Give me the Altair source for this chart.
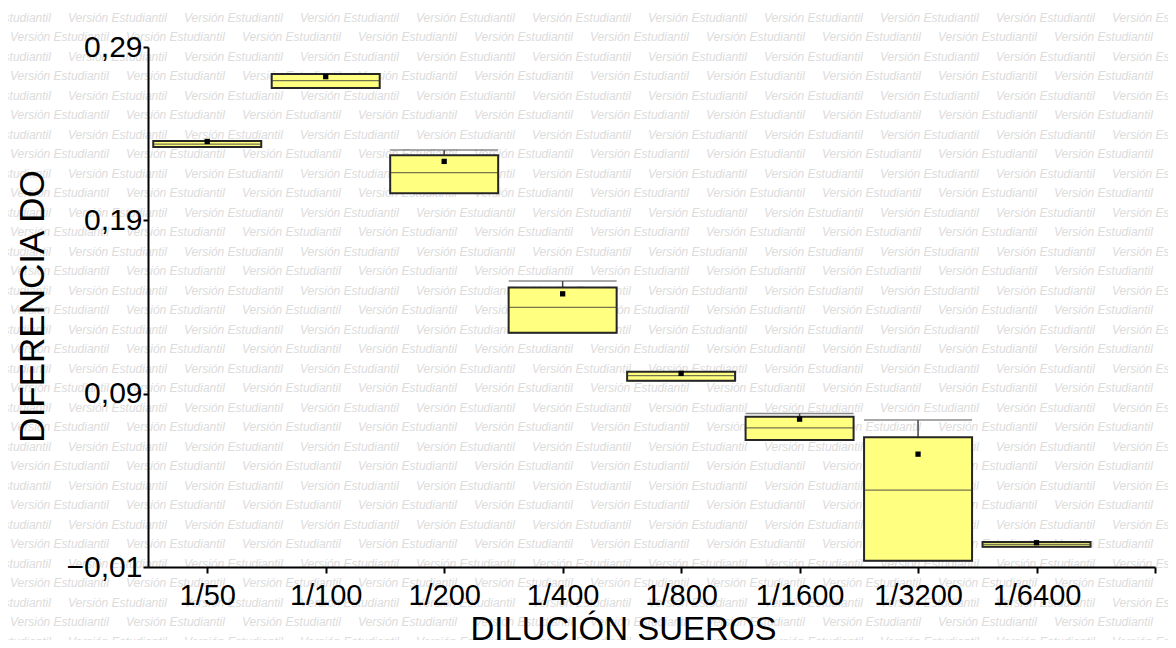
import altair as alt
import pandas as pd

# ---- data ----
categories = ['1/50', '1/100', '1/200', '1/400', '1/800', '1/1600', '1/3200', '1/6400']
positions = [1, 2, 3, 4, 5, 6, 7, 8]
q1 = [0.2323, 0.2663, 0.2056, 0.1251, 0.0975, 0.0632, -0.0064, 0.0017]
median = [0.2340, 0.2706, 0.2175, 0.1398, 0.1004, 0.0703, 0.0344, 0.0030]
q3 = [0.2358, 0.2744, 0.2275, 0.1513, 0.1026, 0.0767, 0.0648, 0.0044]
whisker_hi = [0.2358, 0.2744, 0.2306, 0.1550, 0.1026, 0.0786, 0.0748, 0.0044]
whisker_lo = [0.2323, 0.2663, 0.2056, 0.1251, 0.0975, 0.0632, -0.0064, 0.0017]
mean = [0.2355, 0.2729, 0.2240, 0.1476, 0.1017, 0.0753, 0.0551, 0.0040]

y_ticks = [-0.01, 0.09, 0.19, 0.29]
x_ticks = [1, 2, 3, 4, 5, 6, 7, 8, 9]

watermark_text = 'Versión Estudiantil'

df = pd.DataFrame({
    'cat': categories, 'pos': positions, 'q1': q1, 'median': median, 'q3': q3,
    'hi': whisker_hi, 'lo': whisker_lo, 'mean': mean,
})

# watermark pattern (page decoration), in plot-pixel coordinates
wm_rows = []
for r in range(34):
    start = 68 if r % 2 == 0 else 10
    for c in range(-1, 11):
        wm_rows.append({'wx': start + 116 * c - 148, 'wy': 17.5 + 19.5 * r - 47, 't': watermark_text})
wm = pd.DataFrame(wm_rows)

PLOT_W, PLOT_H = 1007, 520
BOX_W = 108

label_arr = '[' + ','.join("'" + c + "'" for c in categories) + ']'

xscale = alt.Scale(domain=[0.5, 9], nice=False, zero=False, padding=0)
yscale = alt.Scale(domain=[-0.01, 0.29], nice=False, zero=False, padding=0)

xaxis = alt.Axis(
    values=x_ticks, labelExpr=label_arr + "[datum.value-1] || ''",
    title='DILUCIÓN SUEROS', titleX=475, titleY=72, titleBaseline='alphabetic',
    titleAlign='center', titleAnchor='start', titleFontSize=33,
    labelBaseline='alphabetic', labelPadding=31, labelFontSize=29, tickSize=6,
    labelFlush=False, labelOverlap=False, zindex=1,
)
yaxis = alt.Axis(
    values=y_ticks, labelExpr="replace(format(datum.value, '.2f'), '.', ',')",
    title='DIFERENCIA DO', titleX=-116, titleY=259, titleAngle=270,
    titleBaseline='middle', titleAlign='center', titleAnchor='start', titleFontSize=35,
    labelPadding=1, labelFontSize=30, tickSize=5, labelFlush=False, labelOverlap=False, zindex=1,
)

base = alt.Chart(df)

watermark = alt.Chart(wm).mark_text(
    align='left', baseline='middle', font='Liberation Sans', fontSize=12,
    fontStyle='italic', color='#dcdcdc', clip=False,
).encode(
    x=alt.X('wx:Q', scale=None, axis=None),
    y=alt.Y('wy:Q', scale=None, axis=None),
    text='t:N',
)

whisker = base.mark_rule(color='#444444', strokeWidth=1.5).encode(
    x=alt.X('pos:Q', scale=xscale, axis=xaxis),
    y=alt.Y('q3:Q', scale=yscale, axis=yaxis),
    y2='hi:Q',
)

cap_hi = base.mark_tick(orient='horizontal', size=BOX_W, thickness=1.5, color='#5a5a5a').encode(
    x=alt.X('pos:Q', scale=xscale), y=alt.Y('hi:Q', scale=yscale),
)
cap_lo = base.mark_tick(orient='horizontal', size=BOX_W, thickness=1.5, color='#5a5a5a').encode(
    x=alt.X('pos:Q', scale=xscale), y=alt.Y('lo:Q', scale=yscale),
)

box = base.mark_bar(width=BOX_W, fill='#FFFF80', stroke='#262626', strokeWidth=2).encode(
    x=alt.X('pos:Q', scale=xscale),
    y=alt.Y('q1:Q', scale=yscale),
    y2='q3:Q',
)

med = base.mark_tick(orient='horizontal', size=BOX_W, thickness=1.3, color='#3a3a3a').encode(
    x=alt.X('pos:Q', scale=xscale), y=alt.Y('median:Q', scale=yscale),
)

mean_pt = base.mark_square(size=28, color='black', opacity=1).encode(
    x=alt.X('pos:Q', scale=xscale), y=alt.Y('mean:Q', scale=yscale),
)

chart = alt.layer(watermark, whisker, cap_hi, cap_lo, box, med, mean_pt).properties(
    width=PLOT_W, height=PLOT_H,
    autosize=alt.AutoSizeParams(type='none'),
    padding={'left': 140, 'top': 39, 'right': 13, 'bottom': 73},
    background='white',
).configure_view(strokeWidth=0).configure_axis(
    labelFont='Liberation Sans', labelColor='black',
    titleFont='Liberation Sans', titleFontWeight='normal', titleColor='black',
    domainColor='black', domainWidth=2, tickColor='black', tickWidth=2, grid=False,
)

chart.save('out.html', embed_options={'renderer': 'svg', 'actions': False})
